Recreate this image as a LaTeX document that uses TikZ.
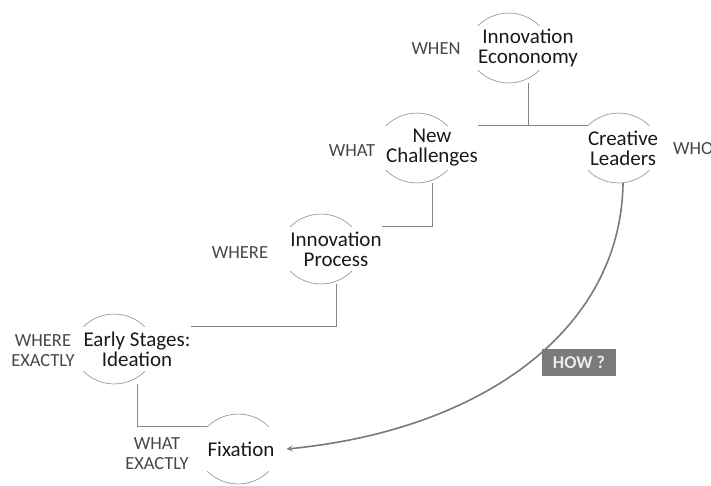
\documentclass[tikz,border=0pt]{standalone}
\usepackage{fontspec}
\setmainfont{Carlito}

\begin{document}
\begin{tikzpicture}[x=1pt, y=-1pt,
    bud/.style={minimum width=62pt, minimum height=44pt, inner sep=0pt, align=center,
                font=\fontsize{21}{20}\selectfont, text=black!90},
    ask/.style={align=center, inner sep=0pt, font=\fontsize{18.5}{20}\selectfont, text=black!72},
    rim/.style={draw=black!40, line width=0.7pt},
    link/.style={draw=black!48, line width=0.8pt},
    flow/.style={draw=black!52, line width=1.6pt, -stealth}]
 	\useasboundingbox (0,0) rectangle (711,485);
 	\node[bud] (econ) at (528,48) {Innovation\\Econonomy};
 	\node[bud] (chal) at (432,148) {New\\Challenges};
 	\node[bud] (lead) at (623,148) {Creative\\Leaders};
 	\node[bud] (proc) at (336,249) {Innovation\\Process};
 	\node[bud] (early) at (137,349) {Early Stages:\\Ideation};
 	\node[bud] (fix) at (241,449) {Fixation};
 	\foreach \n in {econ,chal,lead,proc,early,fix}{
 		\draw[rim] (\n.north west) arc[start angle=135, end angle=45, radius=43.5pt];
 		\draw[rim] (\n.south west) arc[start angle=225, end angle=315, radius=43.5pt];
 	}
 	\node[ask] (when) at (436,49) {WHEN};
 	\node[ask] (what) at (352,150.5) {WHAT};
 	\node[ask, anchor=west] (who) at (673,149) {WHO};
 	\node[ask] (where) at (240,253) {WHERE};
 	\node[ask] (wherex) at (43,350.5) {WHERE\\EXACTLY};
 	\node[ask] (whatx) at (157,453.5) {WHAT\\EXACTLY};
 	\node[fill=black!52, text=black!8, minimum width=74pt, minimum height=27pt, inner sep=0pt,
 	      font=\fontsize{18}{18}\selectfont\bfseries] (how) at (579,362.5) {HOW ?};
 	\draw[link] ([yshift=-13pt]econ.south) -- (econ.south |- chal.north);
 	\draw[link] (chal.north east) -- (lead.north west);
 	\draw[link] ([yshift=-13pt]chal.south) |- (proc.north east);
 	\draw[link] ([yshift=-13pt]proc.south) |- (early.north east);
 	\draw[link] ([yshift=-13pt]early.south) |- (fix.north west);
 	\draw[flow] ([yshift=-13pt]lead.south) .. controls +(-2,147) and +(195,-19) .. ([xshift=12pt]fix.east);
 \end{tikzpicture}
\end{document}
